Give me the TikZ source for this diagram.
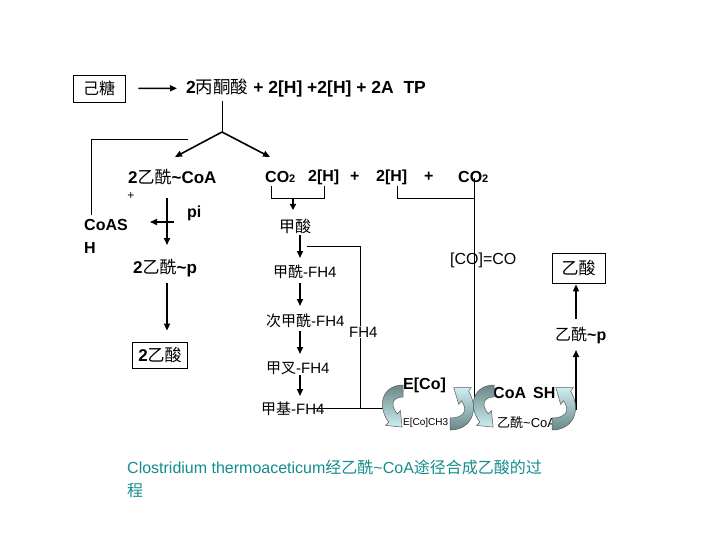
\documentclass[tikz,border=0pt]{standalone}
\usepackage{fontspec}
\setmainfont{Liberation Sans}
\newfontfamily\cjk{Noto Sans CJK SC}
\usetikzlibrary{arrows.meta}
\definecolor{capcol}{RGB}{20,140,140}
\definecolor{dk}{RGB}{105,135,135}
\definecolor{lt}{RGB}{205,238,244}
\begin{document}
\begin{tikzpicture}[x=1pt,y=-1pt,
  txt/.style={inner sep=0pt, font=\fontsize{16}{19}\selectfont},
  big/.style={inner sep=0pt, font=\fontsize{17}{20}\selectfont},
  mid/.style={inner sep=0pt, font=\fontsize{15}{18}\selectfont},
  box/.style={draw, line width=0.8pt, inner sep=0pt},
  ln/.style={line width=0.8pt},
  arr/.style={line width=1.6pt, -{Triangle[length=7pt,width=6pt]}},
  blk/.style={draw=black!65, line width=0.5pt},
  curlL/.pic={\shadedraw[blk, top color=dk, bottom color=lt]
    (403,385) .. controls (383,385) and (376,405) .. (388.8,422.2)
    -- (385.6,425.4) -- (402.1,427.1) -- (400.4,410.6) -- (397.2,413.8)
    .. controls (390,405) and (392,397) .. (403,397) -- cycle;},
  curlR/.pic={\shadedraw[blk, top color=lt, bottom color=dk]
    (450,430) .. controls (471,430) and (480,410) .. (468.6,391.2)
    -- (471.3,387.6) -- (453.8,387.6) -- (458.7,404.4) -- (461.4,400.8)
    .. controls (469,411) and (463,418) .. (450,418) -- cycle;}
]
\useasboundingbox (0,0) rectangle (720,540);

% top row
\node[box, txt, minimum width=52pt, minimum height=27pt] (hex) at (99,88.5) {\cjk 己糖};
\node[inner sep=0pt, font=\fontsize{17.5}{20}\selectfont, anchor=west] (pyr) at (186,88) {\textbf{2}{\cjk 丙酮酸} \textbf{+ 2[H] +2[H] + 2A\ \ TP}};
\draw[arr, shorten <=13pt, shorten >=9pt] (hex) -- (pyr);

\coordinate (jt) at (222,101);
\coordinate (j) at (222,132);
\coordinate (ta) at (175,157);
\coordinate (tb) at (270,157);
\draw[ln] (jt) -- (j);
\draw[arr] (j) -- (ta);
\draw[arr] (j) -- (tb);

% left column
\node[big, anchor=west] (acoa) at (128,177) {\textbf{2}{\cjk 乙酰}\textbf{\textasciitilde CoA}};
\node[inner sep=0pt, font=\fontsize{12}{12}\selectfont] (plus) at (131,196) {+};
\node[inner sep=0pt, anchor=west, align=left, font=\fontsize{16}{23}\selectfont\bfseries] (coash) at (84,236.5) {CoAS\\H};
\node[txt, anchor=west] (pi) at (187,213) {\textbf{pi}};
\node[big, anchor=west] (acp) at (133,268) {\textbf{2}{\cjk 乙酰}\textbf{\textasciitilde p}};
\node[box, big, minimum width=55pt, minimum height=26pt] (ac2) at (160,355) {\textbf{2}{\cjk 乙酸}};

\coordinate (c1) at (188,139);
\coordinate (c2) at (91,139);
\coordinate (c3) at (91,215);
\draw[ln] (c1) -- (c2) -- (c3);
\coordinate (v1s) at (167,198);
\coordinate (v1e) at (167,245);
\draw[arr] (v1s) -- (v1e);
\coordinate (h1s) at (174,222);
\coordinate (h1e) at (150,222);
\draw[arr] (h1s) -- (h1e);
\coordinate (v2s) at (167,283);
\draw[arr, shorten >=11pt] (v2s) -- (ac2.north -| v2s);

% right column header
\node[txt, anchor=west, font=\fontsize{16}{19}\selectfont\bfseries] (co2a) at (265,177) {CO{\fontsize{11}{11}\selectfont 2}};
\node[txt, anchor=west, font=\fontsize{16}{19}\selectfont\bfseries] (h2a) at (308,177) {2[H]};
\node[txt, anchor=west, font=\fontsize{16}{19}\selectfont\bfseries] (p1) at (350,177) {+};
\node[txt, anchor=west, font=\fontsize{16}{19}\selectfont\bfseries] (h2b) at (376,177) {2[H]};
\node[txt, anchor=west, font=\fontsize{16}{19}\selectfont\bfseries] (p2) at (424,177) {+};

\coordinate (b1a) at (271,186);
\coordinate (b1b) at (271,198);
\coordinate (b1c) at (324,198);
\coordinate (b1d) at (324,186);
\draw[ln] (b1a) -- (b1b) -- (b1c) -- (b1d);
\coordinate (b1m) at (293,198);
\coordinate (b1t) at (293,210);
\draw[line width=1.6pt, -{Triangle[length=6pt,width=6pt]}] (b1m) -- (b1t);
\coordinate (b2a) at (397,186);
\coordinate (b2b) at (397,198);
\coordinate (b2c) at (474,198);
\draw[ln] (b2a) -- (b2b) -- (b2c);
\coordinate (vt) at (474,178);
\coordinate (vb) at (474,405);
\draw[ln] (vt) -- (vb);
\node[txt, anchor=west, font=\fontsize{16}{19}\selectfont\bfseries] (co2b) at (458,177) {CO{\fontsize{11}{11}\selectfont 2}};

% formyl pathway
\node[txt] (fa) at (295,226) {\cjk 甲酸};
\node[mid, anchor=west] (ffh) at (273,272) {{\cjk 甲酰}-FH4};
\node[mid, anchor=west] (mfh) at (266,321) {{\cjk 次甲酰}-FH4};
\node[mid, anchor=west] (mefh) at (266,368) {{\cjk 甲叉}-FH4};
\node[mid, anchor=west] (mtfh) at (261,409) {{\cjk 甲基}-FH4};

\coordinate (a1s) at (300,235); \coordinate (a1e) at (300,258);
\coordinate (a2s) at (300,283); \coordinate (a2e) at (300,306);
\coordinate (a3s) at (300,331); \coordinate (a3e) at (300,354);
\coordinate (a4s) at (300,375); \coordinate (a4e) at (300,396);
\draw[arr] (a1s) -- (a1e);
\draw[arr] (a2s) -- (a2e);
\draw[arr] (a3s) -- (a3e);
\draw[arr] (a4s) -- (a4e);

\coordinate (l1) at (307,246);
\coordinate (l2) at (360,246);
\coordinate (l3) at (360,408);
\coordinate (l4) at (312,408);
\coordinate (l5) at (386,408);
\draw[ln] (l1) -- (l2) -- (l3);
\draw[ln] (l4) -- (l5);
\node[mid, anchor=west, fill=white, inner sep=1pt] (fh4) at (348,332) {FH4};

% CO branch and acetate
\node[txt, anchor=west] (coco) at (450,260) {[CO]=CO};
\node[box, big, minimum width=53pt, minimum height=30pt] (acb) at (578.5,268) {\cjk 乙酸};
\node[txt, anchor=west] (acp2) at (555,335) {{\cjk 乙酰}\textbf{\textasciitilde p}};
\coordinate (r1s) at (576,410);
\coordinate (r1e) at (576,350);
\coordinate (r2s) at (576,319);
\draw[arr] (r1s) -- (r1e);
\draw[arr, shorten >=1pt] (r2s) -- (acb.south -| r2s);

% cobalt cycle
\node[inner sep=0pt, anchor=west, font=\fontsize{16}{19}\selectfont\bfseries] (eco) at (403,385) {E[Co]};
\node[inner sep=0pt, anchor=west, font=\fontsize{10}{12}\selectfont] (ecoch) at (403,423) {E[Co]CH3};
\node[inner sep=0pt, anchor=west, font=\fontsize{16}{19}\selectfont\bfseries] (coash2) at (493,393) {CoA\ \,SH};
\node[inner sep=0pt, anchor=west, font=\fontsize{13}{15}\selectfont] (accoa) at (497,423) {{\cjk 乙酰}\textasciitilde CoA};

\pic at (0,0) {curlL};
\pic at (0,0) {curlR};
\pic at (91,0) {curlL};
\pic at (102,0) {curlR};

% caption
\node[inner sep=0pt, anchor=west, align=left, text=capcol, font=\fontsize{16}{23}\selectfont] (cap) at (127,478.5) {Clostridium thermoaceticum{\cjk 经乙酰}\textasciitilde CoA{\cjk 途径合成乙酸的过}\\{\cjk 程}};
\end{tikzpicture}
\end{document}
